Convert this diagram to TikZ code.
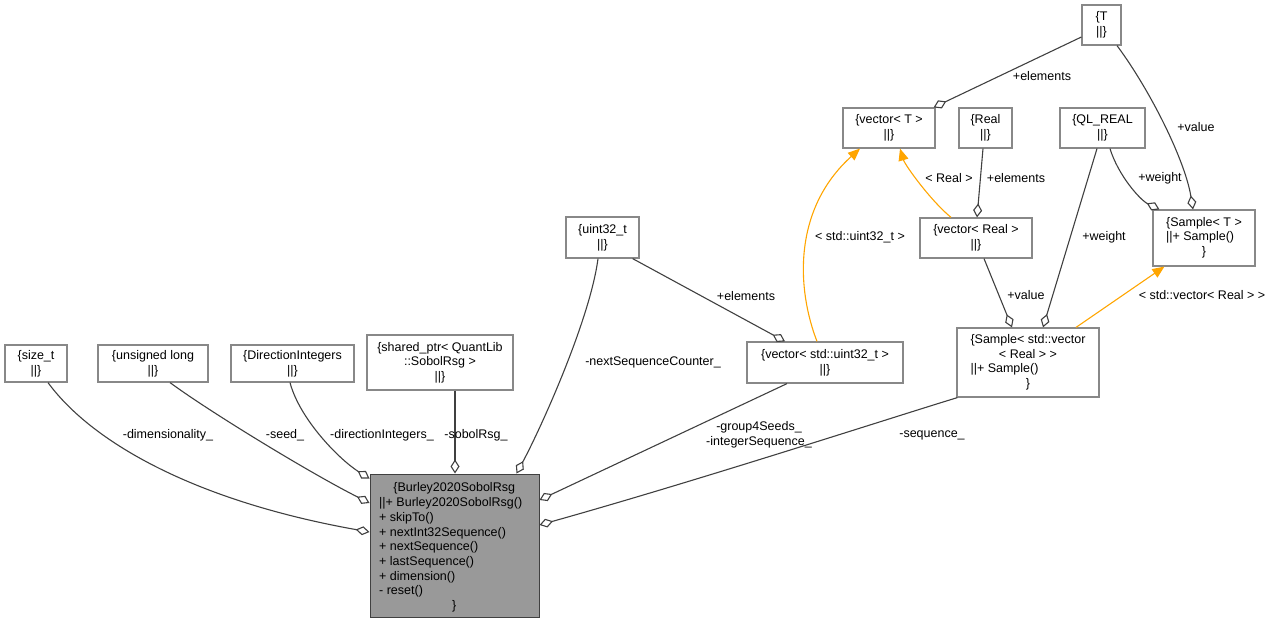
\documentclass[tikz,border=0pt]{standalone}
\usepackage{fontspec}
\setmainfont{Liberation Sans}
\usetikzlibrary{arrows.meta}
\definecolor{edgec}{HTML}{404040}
\definecolor{bordc}{HTML}{888888}
\definecolor{orngc}{HTML}{FFA500}
\definecolor{mainfill}{HTML}{999999}
\newcommand\fnt{\fontsize{12.5}{14.7}\selectfont}
\begin{document}
\begin{tikzpicture}[x=1pt,y=-1pt,
  box/.style={draw=bordc, line width=1.2pt, inner sep=0pt, align=center, font=\fnt},
  mainbox/.style={draw=edgec, fill=mainfill, line width=1pt, inner sep=0pt, font=\fnt},
  lbl/.style={inner sep=0pt, font=\fnt, align=center},
  agg/.style={draw=edgec, line width=1.1pt, -{Diamond[open,length=14pt,width=9pt]}},
  inh/.style={draw=orngc, line width=1.1pt, -{Triangle[length=12pt,width=10pt]}}]
\useasboundingbox (0,0) rectangle (1275,623);

% nodes
\node[box, minimum width=62, minimum height=37] (sizet) at (36,363.5) {\{size\_t\\||\}};
\node[box, minimum width=110, minimum height=37] (ulong) at (153,363.5) {\{unsigned long\\||\}};
\node[box, minimum width=123, minimum height=37] (dirint) at (292.5,363.5) {\{DirectionIntegers\\||\}};
\node[box, minimum width=146, minimum height=55] (shptr) at (440,362.5) {\{shared\_ptr< QuantLib\\::SobolRsg >\\||\}};
\node[box, minimum width=73, minimum height=41] (uint) at (602.5,237.5) {\{uint32\_t\\||\}};
\node[box, minimum width=156, minimum height=41] (vecu) at (825,362.5) {\{vector< std::uint32\_t >\\||\}};
\node[box, minimum width=92, minimum height=40] (vecT) at (889,128) {\{vector< T >\\||\}};
\node[box, minimum width=53, minimum height=40] (real) at (985.5,128) {\{Real\\||\}};
\node[box, minimum width=85, minimum height=40] (qlreal) at (1102.5,128) {\{QL\_REAL\\||\}};
\node[box, minimum width=39, minimum height=40] (T) at (1101.5,25) {\{T\\||\}};
\node[box, minimum width=112, minimum height=40] (vecR) at (976,238) {\{vector< Real >\\||\}};
\node[box, minimum width=102, minimum height=56] (sampT) at (1204,238) {\begin{tabular}{@{}l@{}}\multicolumn{1}{@{}c@{}}{\{Sample< T >}\\||+ Sample()\\\multicolumn{1}{@{}c@{}}{\}}\end{tabular}};
\node[box, minimum width=142, minimum height=69] (sampV) at (1028,362.5) {\begin{tabular}{@{}l@{}}\multicolumn{1}{@{}c@{}}{\{Sample< std::vector}\\\multicolumn{1}{@{}c@{}}{< Real > >}\\||+ Sample()\\\multicolumn{1}{@{}c@{}}{\}}\end{tabular}};
\node[mainbox, minimum width=169, minimum height=143] (main) at (454.5,545.5) {};
\node[lbl, anchor=north west] (maintext) at (379,481.5) {\begin{tabular}{@{}l@{}}\multicolumn{1}{@{}c@{}}{\makebox[150pt]{\{Burley2020SobolRsg}}\\||+ Burley2020SobolRsg()\\+ skipTo()\\+ nextInt32Sequence()\\+ nextSequence()\\+ lastSequence()\\+ dimension()\\- reset()\\\multicolumn{1}{@{}c@{}}{\makebox[150pt]{\}}}\end{tabular}};

% aggregation edges to main
\draw[agg] ([xshift=12]sizet.south) .. controls (90,440) and (190,500) .. ([yshift=13.5]main.west);
\draw[agg] ([xshift=17]ulong.south) .. controls (210,412) and (310,473) .. ([yshift=42.5]main.west);
\draw[agg] ([xshift=-2.5]dirint.south) .. controls (300,420) and (340,460) .. ([yshift=-5]main.north west);
\draw[agg] ([xshift=15]shptr.south) -- ([xshift=0.5]main.north);
\draw[agg] ([xshift=-4.5]uint.south) .. controls (590,320) and (540,430) .. ([xshift=-23]main.north east);
\draw[agg] ([xshift=-38]vecu.south) -- ([yshift=45.5]main.east);
\draw[agg] ([xshift=1]sampV.south west) .. controls (900,415) and (700,480) .. ([yshift=20.5]main.east);

% other edges
\draw[agg] ([xshift=-7]uint.south east) -- ([xshift=-40]vecu.north);
\draw[inh] ([xshift=-8]vecu.north) .. controls (797,290) and (792,210) .. ([xshift=-29]vecT.south);
\draw[agg] ([yshift=-12]T.west) -- ([xshift=-2]vecT.north east);
\draw[agg] ([xshift=-2.5]real.south) -- ([xshift=1]vecR.north);
\draw[inh] ([xshift=-25]vecR.north) .. controls (930,200) and (905,165) .. ([xshift=11]vecT.south);
\draw[agg] ([xshift=8]vecR.south) -- ([xshift=-16]sampV.north);
\draw[agg] ([xshift=-5.5]qlreal.south) -- ([xshift=15]sampV.north);
\draw[agg] ([xshift=7.5]qlreal.south) .. controls (1118,175) and (1140,200) .. ([xshift=7]sampT.north west);
\draw[agg] ([xshift=15.5]T.south) .. controls (1150,90) and (1185,160) .. ([xshift=-11]sampT.north);
\draw[inh] ([xshift=48]sampV.north) -- ([xshift=12]sampT.south west);

% labels
\node[lbl] (l1) at (168,435) {-dimensionality\_};
\node[lbl] (l2) at (285,435) {-seed\_};
\node[lbl] (l3) at (382,435) {-directionIntegers\_};
\node[lbl] (l4) at (476,435) {-sobolRsg\_};
\node[lbl] (l5) at (653,362) {-nextSequenceCounter\_};
\node[lbl] (l6) at (759,435) {-group4Seeds\_\\-integerSequence\_};
\node[lbl] (l7) at (932,435) {-sequence\_};
\node[lbl] (l8) at (746,296) {+elements};
\node[lbl] (l9) at (860,237) {< std::uint32\_t >};
\node[lbl] (l10) at (1042,76) {+elements};
\node[lbl] (l11) at (1196,127) {+value};
\node[lbl] (l12) at (949,178) {< Real >};
\node[lbl] (l13) at (1016,178) {+elements};
\node[lbl] (l14) at (1160,178) {+weight};
\node[lbl] (l15) at (1104,237) {+weight};
\node[lbl] (l16) at (1026,295) {+value};
\node[lbl] (l17) at (1202,295) {< std::vector< Real > >};
\end{tikzpicture}
\end{document}
